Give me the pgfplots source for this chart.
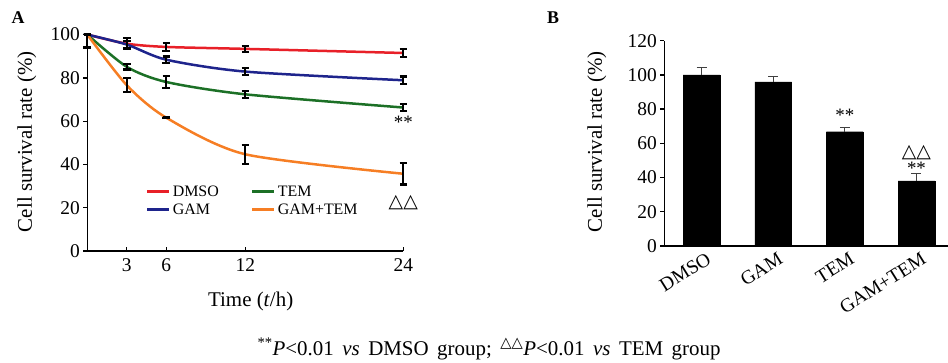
\documentclass[border=0pt]{standalone}
\usepackage{fontspec}
\setmainfont{Liberation Serif}
\newfontfamily\sym{DejaVu Sans}
\usepackage{pgfplots}
\usepackage{pgfplotstable}
\pgfplotsset{compat=1.18}
\definecolor{cDMSO}{RGB}{232,32,40}
\definecolor{cGAM}{RGB}{30,36,140}
\definecolor{cTEM}{RGB}{28,112,38}
\definecolor{cGT}{RGB}{246,126,36}
\newcommand{\tri}{{\sym △}}
\newcommand{\ticklabfont}{\fontsize{19.5}{20}\selectfont}
\newcommand{\labfont}{\fontsize{21}{22}\selectfont}

\pgfplotstableread{
x y ep em
0 100 0 0
3 95.8 2.5 2.5
6 94.3 1.8 1.8
12 93.4 1.4 1.4
24 91.5 2.0 2.0
}\dmso
\pgfplotstableread{
x y ep em
0 100 0 0
3 95.4 1.5 1.5
6 88.4 1.5 1.5
12 82.9 1.5 1.5
24 78.9 1.7 1.7
}\gam
\pgfplotstableread{
x y ep em
0 100 0 0
3 85.1 1.2 1.2
6 78.1 2.8 2.8
12 72.4 1.7 1.7
24 66.3 1.7 1.7
}\tem
\pgfplotstableread{
x y ep em
0 100 0 6
3 76.6 3.2 3.2
6 61.6 0.3 0.3
12 44.7 4.4 4.4
24 35.7 5.0 5.0
}\gt
\pgfplotstableread{
x y e
0 100 4.2
1 96.0 3.3
2 66.8 2.5
3 38.0 4.5
}\bars

\begin{document}
\begin{tikzpicture}
% Panel A
\begin{axis}[
  at={(87.3bp,112bp)}, anchor=south west,
  scale only axis, width=316bp, height=216.4bp,
  xmin=0, xmax=24, ymin=0, ymax=100,
  clip=false,
  axis x line*=bottom, axis y line*=left,
  axis line style={line width=1.5bp, black, -},
  xtick={3,6,12,24}, ytick={0,20,...,100},
  tick align=outside,
  major tick length=4bp,
  tick style={line width=1.3bp, black},
  x tick style={yshift=4bp},
  tick label style={font=\ticklabfont},
  /pgf/number format/assume math mode=true,
  xlabel={Time (\textit{t}/h)},
  ylabel={Cell survival rate (\%)},
  xlabel style={font=\labfont, at={(axis description cs:0.517,-0.231)}, anchor=center},
  ylabel style={font=\labfont, at={(axis description cs:-0.191,0.505)}, anchor=center},
  legend columns=2,
  legend style={draw=none, fill=none, at={(axis description cs:0.175,0.32)}, anchor=north west,
    font=\fontsize{16}{18}\selectfont, row sep=2bp,
    /tikz/every even column/.append style={column sep=30bp}},
  legend cell align=left,
  legend image code/.code={\draw[#1, line width=3bp] (0,0) -- (22bp,0);},
  every axis plot/.append style={line width=2.5bp, smooth, tension=0.45, mark=none},
  error bars/y dir=both, error bars/y explicit,
  error bars/error bar style={line width=2.2bp, black, solid},
  error bars/error mark options={rotate=90, mark size=3.8bp, line width=2.2bp, black},
]
\addplot[cDMSO] table[x=x, y=y, y error plus=ep, y error minus=em]{\dmso};
\addlegendentry{DMSO}
\addplot[cTEM] table[x=x, y=y, y error plus=ep, y error minus=em]{\tem};
\addlegendentry{TEM}
\addplot[cGAM] table[x=x, y=y, y error plus=ep, y error minus=em]{\gam};
\addlegendentry{GAM}
\addplot[cGT] table[x=x, y=y, y error plus=ep, y error minus=em]{\gt};
\addlegendentry{GAM+TEM}
\node[font=\fontsize{19}{20}\selectfont] at (axis cs:24,59.6) {**};
\node[font=\fontsize{19}{20}\selectfont] at (axis cs:24,22.6) {\tri\tri};
\end{axis}

% Panel B
\begin{axis}[
  at={(664.3bp,117bp)}, anchor=south west,
  scale only axis, width=283.7bp, height=205.3bp,
  xmin=-0.52, xmax=3.44, ymin=0, ymax=120,
  clip=false,
  ybar, bar width=36.7bp,
  axis x line*=bottom, axis y line*=left,
  axis line style={line width=1.5bp, black, -},
  xtick=data, xticklabels={DMSO,GAM,TEM,GAM+TEM},
  ytick={0,20,...,120},
  tick align=outside,
  major tick length=4bp,
  tick style={line width=1.3bp, black},
  x tick style={draw=none},
  tick label style={font=\ticklabfont},
  xticklabel style={rotate=32, anchor=north east, xshift=6bp},
  /pgf/number format/assume math mode=true,
  ylabel={Cell survival rate (\%)},
  ylabel style={font=\labfont, at={(axis description cs:-0.238,0.508)}, anchor=center},
]
\addplot[fill=black, draw=black,
  error bars/.cd, y dir=plus, y explicit,
  error bar style={line width=1.2bp, black!75},
  error mark options={rotate=90, mark size=5bp, line width=1.2bp, black!75}]
  table[x=x, y=y, y error=e]{\bars};
\node[font=\fontsize{19}{20}\selectfont] at (axis cs:2,76.6) {**};
\node[font=\fontsize{19}{20}\selectfont] at (axis cs:3,54.5) {\tri\tri};
\node[font=\fontsize{19}{20}\selectfont] at (axis cs:3,45.6) {**};
\end{axis}

\node[font=\bfseries\fontsize{18}{18}\selectfont] at (18bp,345bp) {A};
\node[font=\bfseries\fontsize{18}{18}\selectfont] at (553bp,345bp) {B};
\node[font=\fontsize{21}{22}\selectfont] at (489bp,14bp)
  {\spaceskip=8.5bp\textsuperscript{**}\textit{P}<0.01 \textit{vs} DMSO group; \textsuperscript{\sym △△}\textit{P}<0.01 \textit{vs} TEM group};
\pgfresetboundingbox
\useasboundingbox (0,0) rectangle (948bp,363bp);
\end{tikzpicture}
\end{document}
